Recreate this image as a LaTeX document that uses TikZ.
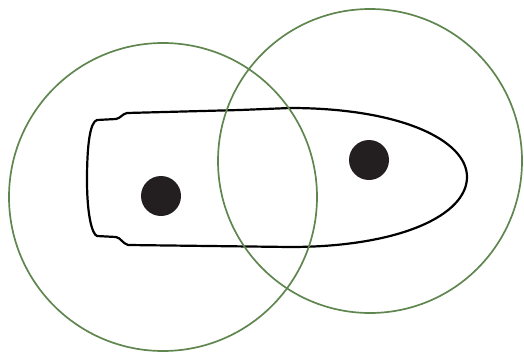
\documentclass[tikz,border=0pt]{standalone}
\definecolor{ringgreen}{RGB}{96,134,80}
\definecolor{dotblack}{RGB}{35,31,32}
\tikzset{
  ring/.style={draw=ringgreen, line width=1.7pt},
  hull/.style={draw=black, line width=2.2pt, line join=round},
  beacon/.style={fill=dotblack}
}
\begin{document}
\begin{tikzpicture}[x=1pt,y=-1pt]
\useasboundingbox (0,0) rectangle (524,356);
% boat hull
\draw[hull] (127,113) -- (240,110) -- (290,108)
  .. controls (400,108) and (467,140) .. (467,177)
  .. controls (467,215) and (400,247) .. (290,247)
  -- (128,245) .. controls (122,243) and (121,238) .. (116,237)
  -- (97,236) .. controls (92,234) and (87,215) .. (87,180)
  .. controls (87,145) and (90,122) .. (97,120)
  -- (116,119) .. controls (121,118) and (122,114) .. (127,113) -- cycle;
% beacons
\fill[beacon] (161,196) circle (20);
\fill[beacon] (369,160) circle (20);
% range circles
\draw[ring] (163,197) circle (154);
\draw[ring] (370,161) circle (152);
\end{tikzpicture}
\end{document}
